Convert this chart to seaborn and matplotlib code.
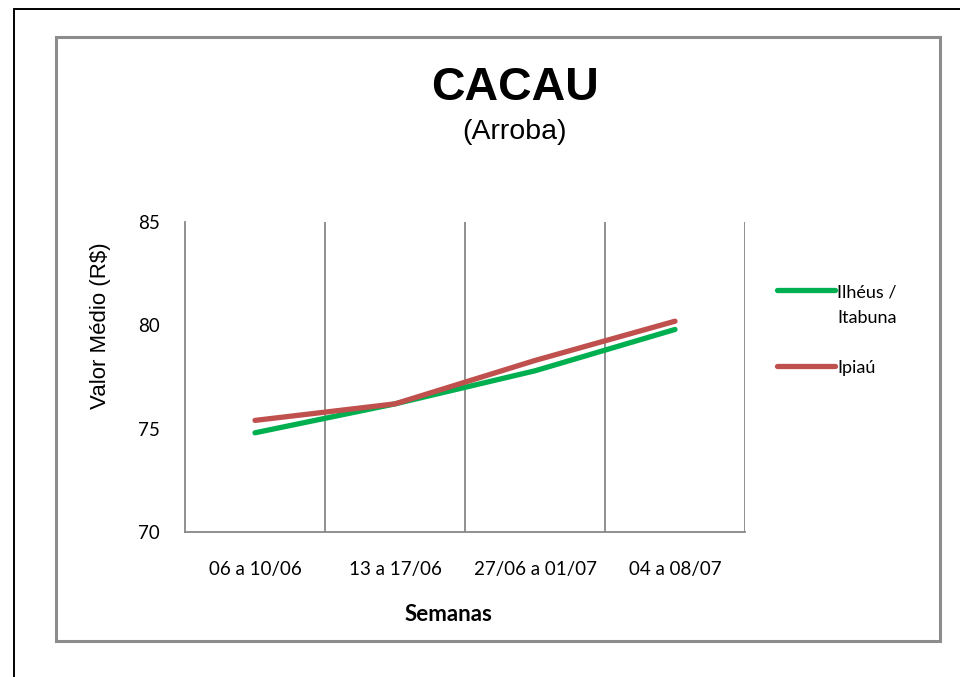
import matplotlib
matplotlib.use("Agg")
import matplotlib.pyplot as plt
import seaborn as sns
import pandas as pd
from matplotlib.patches import Rectangle
from matplotlib.lines import Line2D

semanas = ["06 a 10/06", "13 a 17/06", "27/06 a 01/07", "04 a 08/07"]
ilheus = [74.8, 76.2, 77.8, 79.8]
ipiau = [75.4, 76.2, 78.3, 80.2]
series_names = ["Ilhéus /\nItabuna", "Ipiaú"]
y_ticks = [70, 75, 80, 85]

df = pd.DataFrame({
    "Semana": semanas * 2,
    "Valor": ilheus + ipiau,
    "Série": [series_names[0]] * 4 + [series_names[1]] * 4,
})

sns.set_theme(style="white")
plt.rcParams['font.family'] = ['Lato', 'DejaVu Sans']
plt.rcParams['text.color'] = 'black'
plt.rcParams['axes.labelcolor'] = 'black'

W, H = 960, 677
fig = plt.figure(figsize=(W / 100, H / 100), dpi=100)
ax = fig.add_axes([185 / W, 1 - 532 / H, (745 - 185) / W, (532 - 222) / H])

sns.lineplot(data=df, x="Semana", y="Valor", hue="Série", sort=False,
             palette={series_names[0]: "#00B050", series_names[1]: "#C0504D"},
             linewidth=3.8, ax=ax, legend=False)
for ln in ax.get_lines():
    ln.set_solid_capstyle("round")
    ln.set_solid_joinstyle("round")

ax.set_xlim(-0.5, len(semanas) - 0.5)
ax.set_ylim(70, 85)
ax.set_yticks(y_ticks)
ax.set_xticks(range(len(semanas)))
ax.set_xticklabels(semanas)
ax.tick_params(axis="both", length=0, labelsize=13.5, colors="black")
ax.tick_params(axis="y", pad=18)
ax.tick_params(axis="x", pad=21)

gcol = "#878787"
for xb in [i + 0.5 for i in range(len(semanas))]:
    ax.axvline(xb, color=gcol, lw=1.3, zorder=0)
for s in ["top", "right"]:
    ax.spines[s].set_visible(False)
for s in ["left", "bottom"]:
    ax.spines[s].set_color(gcol)
    ax.spines[s].set_linewidth(1.3)

ax.set_ylabel("Valor Médio (R$)", fontsize=16, family=["Liberation Sans", "DejaVu Sans"])
ax.yaxis.set_label_coords(-0.132, 0.665)
ax.set_xlabel("Semanas", fontsize=16, fontweight="bold")
ax.xaxis.set_label_coords(0.471, -0.266)
ax.xaxis.label.set_va("center")

fig.text(515 / W, 1 - 88 / H, "CACAU", fontsize=33.5, fontweight="bold",
         family=["Liberation Sans", "DejaVu Sans"], ha="center", va="center")
fig.text(515 / W, 1 - 132 / H, "(Arroba)", fontsize=20.5,
         family=["Liberation Sans", "DejaVu Sans"], ha="center", va="center")

handles = [Line2D([], [], color="#00B050", lw=3.8, solid_capstyle="round"),
           Line2D([], [], color="#C0504D", lw=3.8, solid_capstyle="round")]
leg = ax.legend(handles, series_names, loc="upper left",
                bbox_to_anchor=(777 / W, 1 - 284 / H), bbox_transform=fig.transFigure,
                frameon=False, fontsize=13, handlelength=3.2, handletextpad=0.15,
                labelspacing=1.9, borderaxespad=0, borderpad=0)
for t in leg.get_texts():
    t.set_linespacing(1.75)
for hp in leg._legend_handle_box.get_children():
    for row in hp.get_children():
        row.align = "top"

# chart area border and outer lines
fig.patches.append(Rectangle((56 / W, 1 - 641 / H), (940 - 56) / W, (641 - 37) / H,
                             transform=fig.transFigure, fill=False,
                             edgecolor="#8C8C8C", lw=2.2))
fig.lines.append(Line2D([14 / W, 14 / W], [0, 1 - 9 / H], transform=fig.transFigure,
                        color="black", lw=1.4))
fig.lines.append(Line2D([14 / W, 1], [1 - 9 / H, 1 - 9 / H], transform=fig.transFigure,
                        color="black", lw=1.4))

fig.savefig("out.png", dpi=100)
